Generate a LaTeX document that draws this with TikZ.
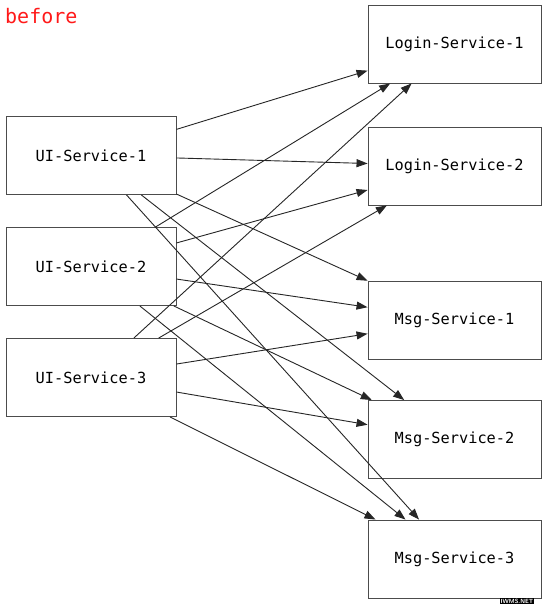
\documentclass[tikz,border=0pt]{standalone}
\usepackage{fontspec}
\setmonofont{DejaVu Sans Mono}
\usetikzlibrary{arrows.meta}
\begin{document}
\begin{tikzpicture}[x=1pt,y=-1pt,
  svc/.style={draw=black!70,line width=0.9pt,fill=white,minimum width=170pt,minimum height=78pt,inner sep=0pt,
    font=\ttfamily\fontsize{15.3}{18}\selectfont},
  rsvc/.style={svc,minimum width=173pt},
  link/.style={draw=black!85,line width=0.9pt,-{Triangle[length=11pt,width=8pt]}}]
\useasboundingbox (0,0) rectangle (550,611);
\fill[white] (0,0) rectangle (550,611);
\node[anchor=base west,text=red!90!white,font=\ttfamily\fontsize{20}{24}\selectfont,inner sep=0pt] (title) at (5,23) {before};
\node[svc] (u1) at (91,155.5) {UI-Service-1};
\node[svc] (u2) at (91,266.5) {UI-Service-2};
\node[svc] (u3) at (91,377.5) {UI-Service-3};
\node[rsvc] (l1) at (454.5,44) {Login-Service-1};
\node[rsvc] (l2) at (454.5,166) {Login-Service-2};
\node[rsvc] (m1) at (454.5,320) {Msg-Service-1};
\node[rsvc] (m2) at (454.5,439.5) {Msg-Service-2};
\node[rsvc] (m3) at (454.5,559) {Msg-Service-3};
\foreach \u in {u1,u2,u3}{
  \foreach \t in {l1,l2,m1,m2,m3}{
    \draw[link] (\u) -- (\t);
  }
}
\node[font=\sffamily\bfseries\fontsize{6}{7}\selectfont,fill=black,text=white,inner sep=0.6pt] (wm) at (517,601) {IWMS.NET};
\end{tikzpicture}
\end{document}
